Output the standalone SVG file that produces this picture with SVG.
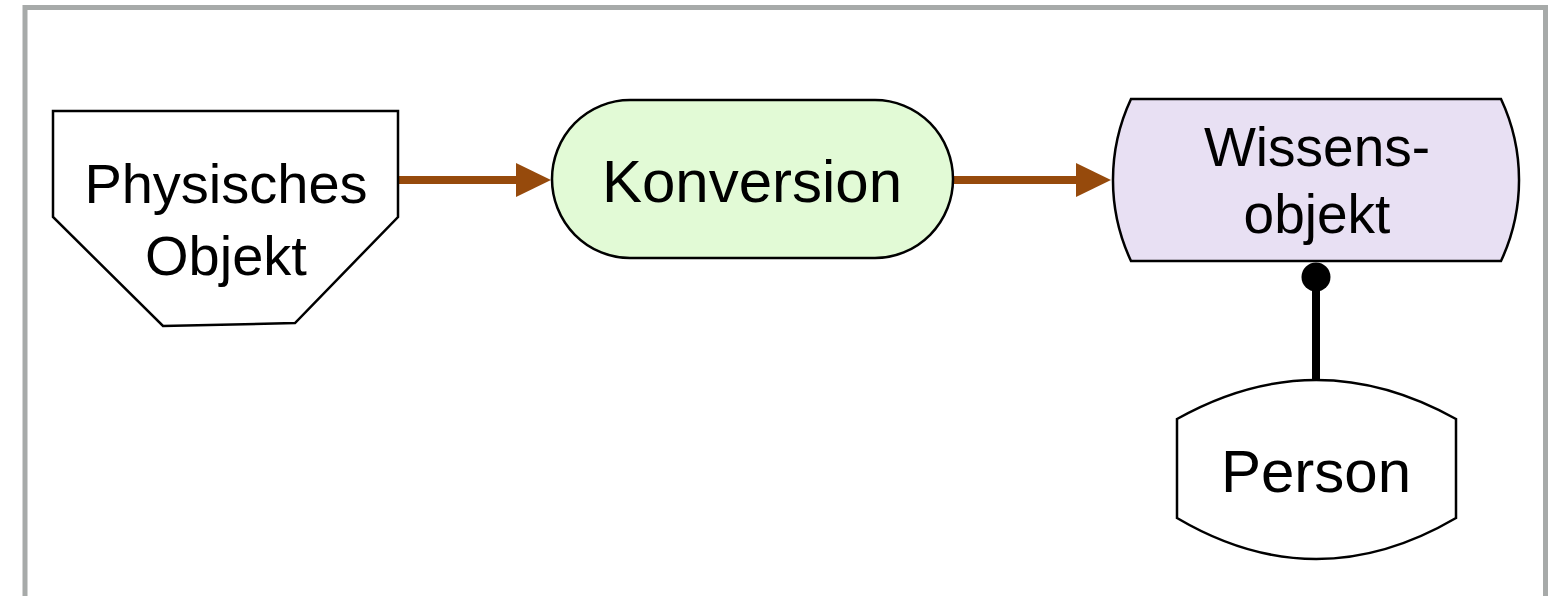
<svg xmlns="http://www.w3.org/2000/svg" width="1558" height="596" viewBox="0 0 1558 596">
  <style>
    .shape { stroke: #000; stroke-width: 2.5; stroke-linejoin: miter; }
    .lbl { font-family: "Liberation Sans", Arial, Helvetica, sans-serif; fill: #000; text-anchor: middle; }
    .flow { stroke: #964a0c; stroke-width: 8; fill: none; }
    .head { fill: #964a0c; }
  </style>
  <rect x="0" y="0" width="1558" height="596" fill="#ffffff"/>
  <rect id="frame" x="25" y="7.5" width="1520.5" height="620" fill="none" stroke="#a7aaa9" stroke-width="5"/>

  <g id="connectors">
    <line class="flow" x1="399" y1="180" x2="518" y2="180"/>
    <path class="head" d="M516,163 L551,180 L516,197 Z"/>
    <line class="flow" x1="954" y1="180" x2="1078" y2="180"/>
    <path class="head" d="M1076,163 L1111,180 L1076,197 Z"/>
    <line x1="1316" y1="277" x2="1316" y2="381" stroke="#000" stroke-width="8"/>
    <circle cx="1316" cy="277" r="14.5" fill="#000"/>
  </g>

  <g id="physisches-objekt">
    <path class="shape" fill="#ffffff" d="M53,111 L398,111 L398,217 L295,323 L163,326 L53,217 Z"/>
    <text class="lbl" x="226" y="203" font-size="56">Physisches</text>
    <text class="lbl" x="226" y="275" font-size="56">Objekt</text>
  </g>

  <g id="konversion">
    <rect class="shape" x="552" y="100" width="401" height="158" rx="78" ry="79" fill="#e2fad6"/>
    <text class="lbl" x="752" y="202" font-size="60">Konversion</text>
  </g>

  <g id="wissensobjekt">
    <path class="shape" fill="#e8e0f3" d="M1131,99 L1501,99 A191,191 0 0 1 1501,261 L1131,261 A191,191 0 0 1 1131,99 Z"/>
    <text class="lbl" x="1317" y="166" font-size="55">Wissens-</text>
    <text class="lbl" x="1317" y="233" font-size="55">objekt</text>
  </g>

  <g id="person">
    <path class="shape" fill="#ffffff" d="M1177,419 Q1316,341 1456,419 L1456,518 Q1316,600 1177,518 Z"/>
    <text class="lbl" x="1316" y="492" font-size="60">Person</text>
  </g>
</svg>
